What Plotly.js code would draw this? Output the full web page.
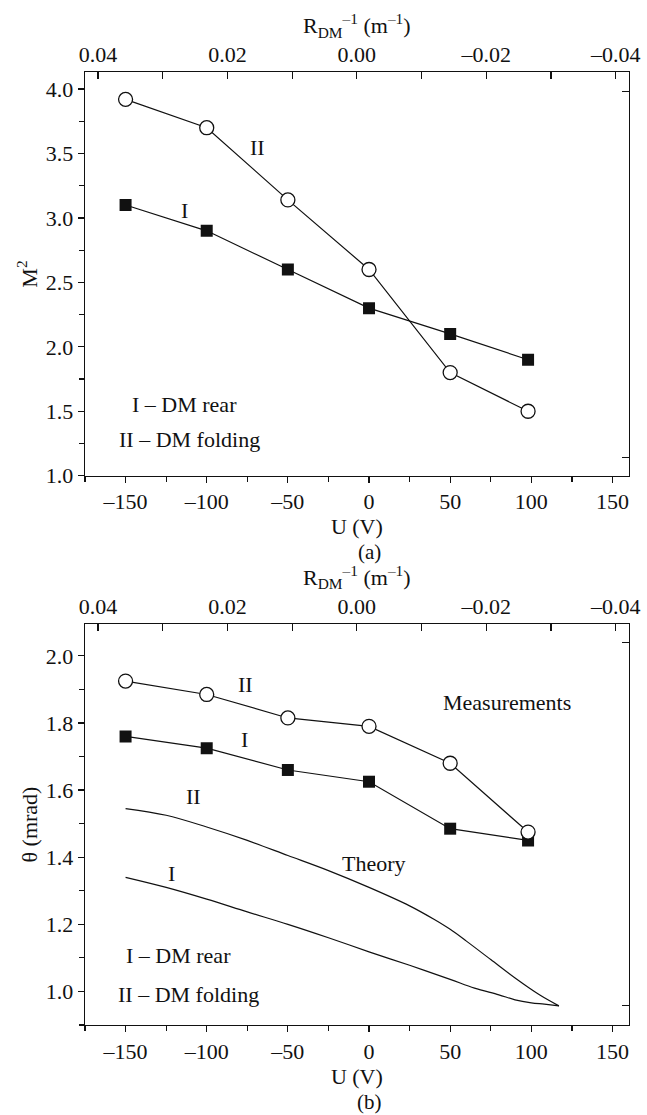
<!DOCTYPE html>
<html>
<head>
<meta charset="utf-8">
<script src="https://cdn.plot.ly/plotly-3.0.1.min.js"></script>
<style>html,body{margin:0;padding:0;background:#fff;} #chart{width:647px;height:1115px;}</style>
</head>
<body>
<div id="chart"></div>
<script>
// ---- data ----
const U = [-150, -100, -50, 0, 50, 98];
const m2_I = [3.10, 2.90, 2.60, 2.30, 2.10, 1.90];
const m2_II = [3.92, 3.70, 3.14, 2.60, 1.80, 1.50];
const theta_I = [1.76, 1.725, 1.66, 1.625, 1.485, 1.45];
const theta_II = [1.925, 1.885, 1.815, 1.79, 1.68, 1.475];
const theoryU_I = [-150, -125, -100, -75, -50, -25, 0, 25, 50, 65, 80, 90, 100, 108, 117];
const theory_I = [1.34, 1.31, 1.275, 1.237, 1.20, 1.16, 1.118, 1.078, 1.036, 1.01, 0.99, 0.975, 0.966, 0.962, 0.957];
const theoryU_II = [-150, -125, -100, -75, -50, -25, 0, 25, 40, 50, 60, 75, 90, 105, 117];
const theory_II = [1.545, 1.525, 1.49, 1.45, 1.405, 1.36, 1.31, 1.255, 1.215, 1.185, 1.15, 1.095, 1.04, 0.99, 0.957];

const uTickVals = [-150, -100, -50, 0, 50, 100, 150];
const uTickText = ['–150', '–100', '–50', '0', '50', '100', '150'];
const rTickVals = [0.04, 0.02, 0.00, -0.02, -0.04];
const rTickText = ['0.04', '0.02', '0.00', '–0.02', '–0.04'];
const m2TickVals = [1.0, 1.5, 2.0, 2.5, 3.0, 3.5, 4.0];
const m2TickText = ['1.0', '1.5', '2.0', '2.5', '3.0', '3.5', '4.0'];
const thTickVals = [1.0, 1.2, 1.4, 1.6, 1.8, 2.0];
const thTickText = ['1.0', '1.2', '1.4', '1.6', '1.8', '2.0'];

// ---- styles ----
const FONT = {family: 'Liberation Serif, Times New Roman, serif', size: 22, color: '#111'};
const FONT_SM = {family: 'Liberation Serif, Times New Roman, serif', size: 21, color: '#111'};
const LC = '#111';
const square = {symbol: 'square', size: 12, color: LC};
const circle = {symbol: 'circle', size: 14, color: '#fff', line: {width: 1.3, color: LC}};

const traces = [
  {x: U, y: m2_I, xaxis: 'x', yaxis: 'y', mode: 'lines+markers', line: {color: LC, width: 1.2}, marker: square, name: 'I'},
  {x: U, y: m2_II, xaxis: 'x', yaxis: 'y', mode: 'lines+markers', line: {color: LC, width: 1.2}, marker: circle, name: 'II'},
  {x: theoryU_I, y: theory_I, xaxis: 'x2', yaxis: 'y2', mode: 'lines', line: {color: LC, width: 1.2, shape: 'spline'}, name: 'Theory I'},
  {x: theoryU_II, y: theory_II, xaxis: 'x2', yaxis: 'y2', mode: 'lines', line: {color: LC, width: 1.2, shape: 'spline'}, name: 'Theory II'},
  {x: U, y: theta_I, xaxis: 'x2', yaxis: 'y2', mode: 'lines+markers', line: {color: LC, width: 1.2}, marker: square, name: 'Meas I'},
  {x: U, y: theta_II, xaxis: 'x2', yaxis: 'y2', mode: 'lines+markers', line: {color: LC, width: 1.2}, marker: circle, name: 'Meas II'},
  // helper traces so overlay axes are drawn
  {x: [null], y: [null], xaxis: 'x3', yaxis: 'y', mode: 'markers', hoverinfo: 'skip'},
  {x: [null], y: [null], xaxis: 'x', yaxis: 'y3', mode: 'markers', hoverinfo: 'skip'},
  {x: [null], y: [null], xaxis: 'x4', yaxis: 'y2', mode: 'markers', hoverinfo: 'skip'},
  {x: [null], y: [null], xaxis: 'x2', yaxis: 'y4', mode: 'markers', hoverinfo: 'skip'}
];

const xDom = [85 / 647, 628.7 / 647];
const topDom = [1 - 475.7 / 1115, 1 - 72.3 / 1115];
const botDom = [1 - 1025 / 1115, 1 - 624 / 1115];

function xBottom(anchor) {
  return {
    domain: xDom, anchor: anchor, range: [-175, 160],
    tickmode: 'array', tickvals: uTickVals, ticktext: uTickText,
    ticks: 'outside', ticklen: 6, tickwidth: 1.2, tickcolor: LC,
    minor: {tickmode: 'linear', tick0: 0, dtick: 25, ticks: 'outside', ticklen: 5, tickwidth: 1.2, tickcolor: LC},
    showline: true, linecolor: LC, linewidth: 1.3, mirror: true,
    showgrid: false, zeroline: false, tickfont: FONT,
    title: {text: 'U (V)', font: FONT, standoff: 0}
  };
}
function xTop(over, anchor) {
  return {
    overlaying: over, anchor: anchor, side: 'top', domain: xDom, range: [0.042, -0.042],
    tickmode: 'array', tickvals: rTickVals, ticktext: rTickText,
    ticks: 'inside', ticklen: 7, tickwidth: 1.2, tickcolor: LC,
    minor: {tickmode: 'linear', tick0: 0, dtick: 0.01, ticks: 'inside', ticklen: 7, tickwidth: 1.2, tickcolor: LC},
    showline: true, linecolor: LC, linewidth: 1.3,
    showgrid: false, zeroline: false, tickfont: FONT,
    title: {text: 'R<sub>DM</sub><sup>–1</sup> (m<sup>–1</sup>)', font: FONT, standoff: 2}
  };
}
function yLeft(anchor, dom, range, tv, tt, minorD, minor0, title) {
  return {
    domain: dom, anchor: anchor, range: range,
    tickmode: 'array', tickvals: tv, ticktext: tt,
    ticks: 'outside', ticklen: 6, tickwidth: 1.2, tickcolor: LC,
    minor: {tickmode: 'linear', tick0: minor0, dtick: minorD, ticks: 'outside', ticklen: 5, tickwidth: 1.2, tickcolor: LC},
    showline: true, linecolor: LC, linewidth: 1.3,
    showgrid: false, zeroline: false, tickfont: FONT,
    title: {text: title, font: FONT, standoff: 2}
  };
}
function yRight(over, anchor, range, tv) {
  return {
    overlaying: over, anchor: anchor, side: 'right', range: range,
    tickmode: 'array', tickvals: tv, showticklabels: false,
    ticks: 'inside', ticklen: 7, tickwidth: 1.2, tickcolor: LC,
    showline: true, linecolor: LC, linewidth: 1.3,
    showgrid: false, zeroline: false
  };
}

const a = (x, y, text, xref, yref, xanchor) => ({x: x, y: y, text: text, xref: xref, yref: yref, showarrow: false, font: FONT, xanchor: xanchor || 'center', yanchor: 'middle'});

const layout = {
  width: 647, height: 1115,
  margin: {l: 0, r: 0, t: 0, b: 0},
  paper_bgcolor: '#fff', plot_bgcolor: '#fff',
  showlegend: false,
  font: FONT,
  xaxis: xBottom('y'),
  yaxis: yLeft('x', topDom, [1.0, 4.13], m2TickVals, m2TickText, 0.25, 1.0, 'M<sup>2</sup>'),
  xaxis3: xTop('x', 'y'),
  yaxis3: yRight('y', 'x', [1.0, 4.13], [3.98, 1.14]),
  xaxis2: xBottom('y2'),
  yaxis2: yLeft('x2', botDom, [0.90, 2.095], thTickVals, thTickText, 0.1, 1.0, 'θ (mrad)'),
  xaxis4: xTop('x2', 'y2'),
  yaxis4: yRight('y2', 'x2', [0.90, 2.095], [2.04, 0.958]),
  annotations: [
    a(-69, 3.55, 'II', 'x', 'y'),
    a(-114, 3.06, 'I', 'x', 'y'),
    a(-147, 1.55, 'I – DM rear', 'x', 'y', 'left'),
    a(-155, 1.28, 'II – DM folding', 'x', 'y', 'left'),
    a(-76, 1.915, 'II', 'x2', 'y2'),
    a(-77, 1.75, 'I', 'x2', 'y2'),
    a(85, 1.86, 'Measurements', 'x2', 'y2'),
    a(-108, 1.58, 'II', 'x2', 'y2'),
    a(-122, 1.352, 'I', 'x2', 'y2'),
    a(3, 1.382, 'Theory', 'x2', 'y2'),
    a(-151, 1.107, 'I – DM rear', 'x2', 'y2', 'left'),
    a(-156, 0.99, 'II – DM folding', 'x2', 'y2', 'left'),
    {x: 0, y: 1 - 552 / 1115, xref: 'x', yref: 'paper', text: '(a)', showarrow: false, font: FONT_SM, yanchor: 'middle'},
    {x: 0, y: 1 - 1102 / 1115, xref: 'x2', yref: 'paper', text: '(b)', showarrow: false, font: FONT_SM, yanchor: 'middle'}
  ]
};

Plotly.newPlot('chart', traces, layout, {staticPlot: true, displayModeBar: false});
</script>
</body>
</html>
